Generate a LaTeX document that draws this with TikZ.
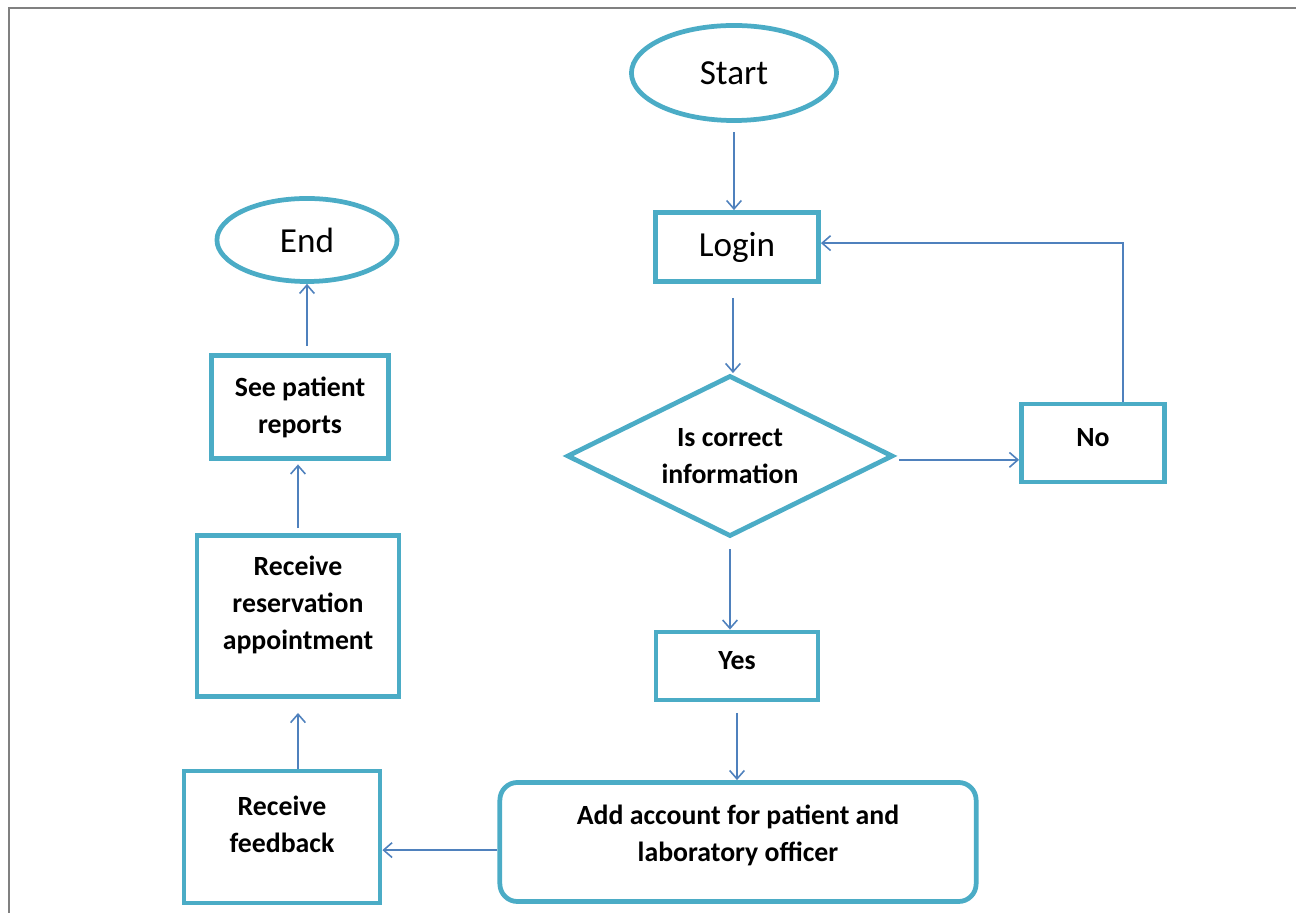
\documentclass[tikz,border=0pt]{standalone}
\usepackage{fontspec}
\setmainfont{Carlito}
\usepackage{xcolor}
\definecolor{flowteal}{RGB}{75,172,198}
\definecolor{flowblue}{RGB}{79,129,189}
\definecolor{framegray}{RGB}{128,128,128}
\usetikzlibrary{arrows.meta,positioning,shapes.geometric,calc}

\begin{document}
\begin{tikzpicture}[x=0.01cm,y=-0.01cm,
  box/.style={draw=flowteal,line width=1.35pt,font=\fontsize{7.9}{10.5}\selectfont\bfseries,align=center,inner sep=0pt},
  term/.style={draw=flowteal,line width=1.35pt,ellipse,font=\fontsize{10}{12}\selectfont,inner sep=0pt},
  arr/.style={-{Straight Barb[length=2.4pt,width=4.2pt]},flowblue,line width=0.45pt}]
  \useasboundingbox (0,0) rectangle (1296,913);
  % page frame
  \draw[framegray,line width=0.6pt] (9,913) -- (9,8) -- (1296,8);
  % main column
  \node[term,minimum width=2.05cm,minimum height=0.95cm] (start) at (734,73) {Start};
  \node[box,font=\fontsize{10}{12}\selectfont,minimum width=1.63cm,minimum height=0.69cm] (login) at (737,247) {Login};
  \node[box,diamond,aspect=2.02,minimum width=3.26cm,minimum height=1.61cm] (check) at (730,456) {Is correct\\information};
  \node[box,text depth=3.4pt,minimum width=1.43cm,minimum height=0.78cm] (no) at (1093,443) {No};
  \node[box,text depth=3.4pt,minimum width=1.62cm,minimum height=0.68cm] (yes) at (737,666) {Yes};
  \node[box,text depth=5.1pt,rounded corners=5pt,minimum width=4.76cm,minimum height=1.19cm] (addacc) at (738,842) {Add account for patient and\\laboratory officer};
  % left column
  \node[box,text depth=7.4pt,minimum width=1.96cm,minimum height=1.32cm] (feedback) at (282,837) {Receive\\feedback};
  \node[box,text depth=7.4pt,minimum width=2.02cm,minimum height=1.61cm] (reserve) at (298,616) {Receive\\reservation\\appointment};
  \node[box,minimum width=1.77cm,minimum height=1.03cm] (reports) at (300,407) {See patient\\reports};
  \node[term,minimum width=1.80cm,minimum height=0.83cm] (stop) at (307,240) {End};
  % connectors
  \draw[arr,shorten <=2.6pt] (start.south) -- (start.south |- login.north);
  \draw[arr,shorten <=4pt] ([xshift=0.85pt]login.south -| check.north) -- ([xshift=0.85pt]check.north);
  \draw[arr,shorten <=3pt] (check.south) -- (check.south |- yes.north);
  \draw[arr] ([xshift=1.1pt,yshift=-1.1pt]check.east) -- ([yshift=-1.1pt]check.east -| no.west);
  \draw[arr] ([xshift=8.5pt]no.north) |- ([yshift=1.1pt]login.east);
  \draw[arr,shorten <=3pt] (yes.south) -- (yes.south |- addacc.north);
  \draw[arr] ([yshift=-2.3pt]addacc.west) -- ([yshift=-2.3pt]addacc.west -| feedback.east);
  \draw[arr,shorten >=4pt] (reserve.south |- feedback.north) -- (reserve.south);
  \draw[arr,shorten <=1.4pt,shorten >=1pt] (reserve.north) -- (reserve.north |- reports.south);
  \draw[arr,shorten <=2pt] (stop.south |- reports.north) -- (stop.south);
\end{tikzpicture}
\end{document}
